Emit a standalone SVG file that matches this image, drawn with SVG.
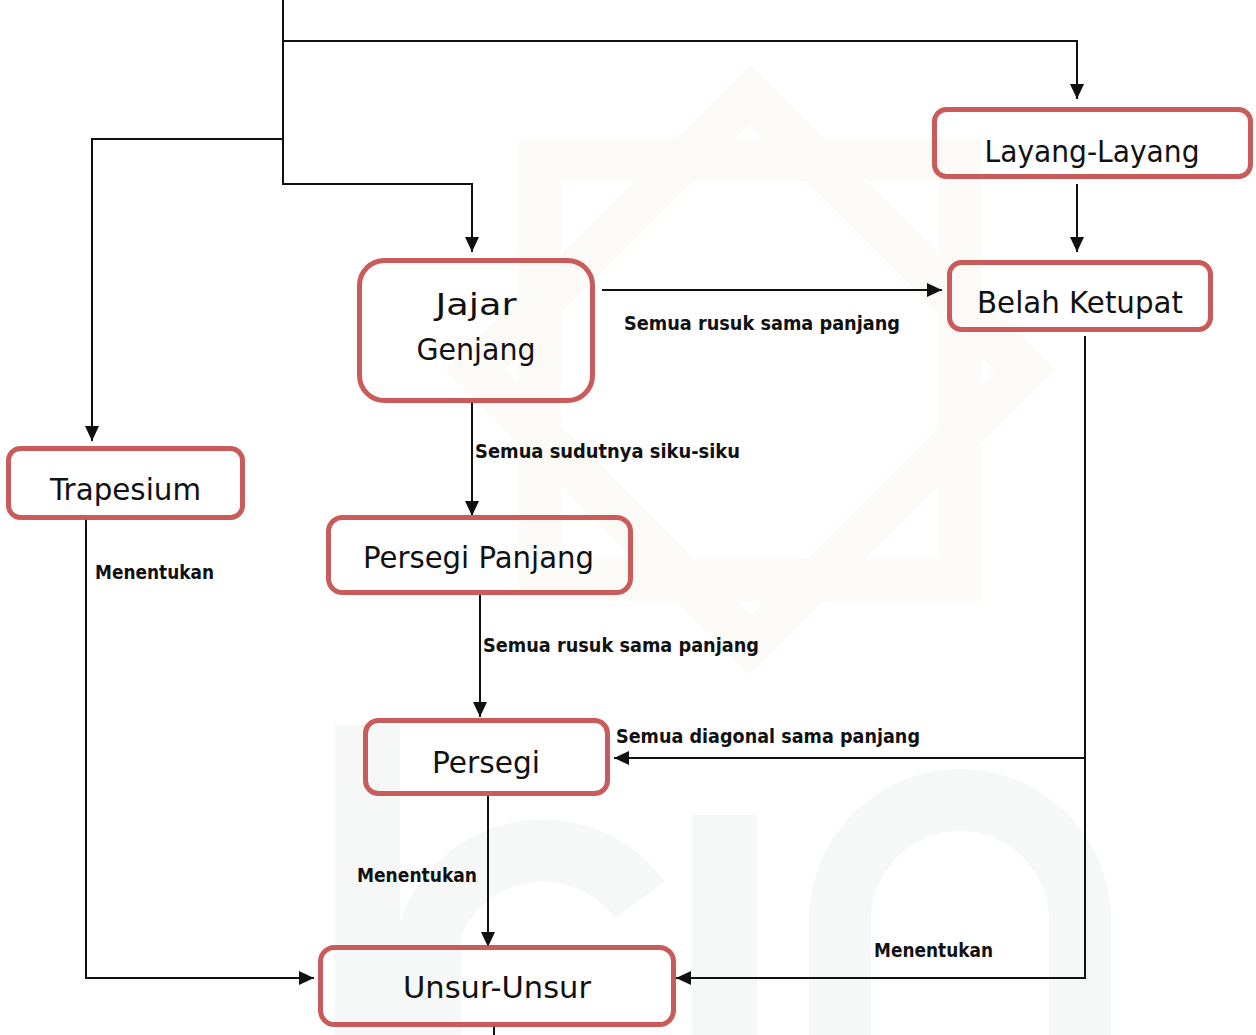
<svg xmlns="http://www.w3.org/2000/svg" width="1256" height="1035" viewBox="0 0 1256 1035">
<defs>
<style>
.box{fill:none;stroke:#c5504e;stroke-width:5;stroke-opacity:0.93}
.nt{font-family:"Comic Sans MS","DejaVu Sans",sans-serif;font-size:31px;fill:#111;text-anchor:middle}
.lb{font-family:"Comic Sans MS","DejaVu Sans",sans-serif;font-size:20px;font-weight:bold;fill:#111}
.ln{fill:none;stroke:#111;stroke-width:2}
.wm1{fill:none;stroke:#fbfaf7;stroke-width:42}
.wm2{fill:#f5f8f6}
.wm3{fill:none;stroke:#f5f8f6;stroke-width:62}
</style>
<marker id="ah" markerUnits="userSpaceOnUse" markerWidth="16" markerHeight="14" refX="15" refY="7" orient="auto">
<path d="M0,0 L15,7 L0,14 Z" fill="#111"/>
</marker>
</defs>
<rect width="1256" height="1035" fill="#fff"/>
<g id="watermark">
<rect class="wm1" x="540" y="160" width="420" height="420"/>
<path class="wm1" d="M750,95 L1025,370 L750,645 L475,370 Z"/>
<rect class="wm2" x="335" y="725" width="65" height="310"/>
<rect class="wm2" x="692" y="815" width="65" height="220"/>
<path class="wm3" d="M840,1035 V920 A115,115 0 0 1 1080,920 V1035"/>
<path class="wm3" d="M430,1035 V930 A120,120 0 0 1 640,900"/>
</g>
<g id="connectors">
<path class="ln" d="M283,0 V184 H472 V252" marker-end="url(#ah)"/>
<path class="ln" d="M283,41 H1077 V99" marker-end="url(#ah)"/>
<path class="ln" d="M283,139 H92 V441" marker-end="url(#ah)"/>
<path class="ln" d="M1077,184 V252" marker-end="url(#ah)"/>
<path class="ln" d="M602,290 H942" marker-end="url(#ah)"/>
<path class="ln" d="M472,402 V516" marker-end="url(#ah)"/>
<path class="ln" d="M480,595 V717" marker-end="url(#ah)"/>
<path class="ln" d="M1085,336 V758 H614" marker-end="url(#ah)"/>
<path class="ln" d="M1085,758 V978 H676" marker-end="url(#ah)"/>
<path class="ln" d="M488,796 V947" marker-end="url(#ah)"/>
<path class="ln" d="M86,519 V978 H314" marker-end="url(#ah)"/>
<path class="ln" d="M494,1025 V1035"/>
<text class="lb" x="624" y="330" textLength="276" lengthAdjust="spacingAndGlyphs">Semua rusuk sama panjang</text>
<text class="lb" x="475" y="458" textLength="265" lengthAdjust="spacingAndGlyphs">Semua sudutnya siku-siku</text>
<text class="lb" x="95" y="579" textLength="119" lengthAdjust="spacingAndGlyphs">Menentukan</text>
<text class="lb" x="483" y="652" textLength="276" lengthAdjust="spacingAndGlyphs">Semua rusuk sama panjang</text>
<text class="lb" x="616" y="743" textLength="304" lengthAdjust="spacingAndGlyphs">Semua diagonal sama panjang</text>
<text class="lb" x="357" y="882" textLength="120" lengthAdjust="spacingAndGlyphs">Menentukan</text>
<text class="lb" x="874" y="957" textLength="119" lengthAdjust="spacingAndGlyphs">Menentukan</text>
</g>
<g id="layang">
<rect class="box" x="934.5" y="109.5" width="316" height="67" rx="12"/>
<text class="nt" x="1092" y="162" textLength="215" lengthAdjust="spacingAndGlyphs">Layang-Layang</text>
</g>
<g id="belah">
<rect class="box" x="949.5" y="262.5" width="261" height="67" rx="12"/>
<text class="nt" x="1080" y="313" textLength="206" lengthAdjust="spacingAndGlyphs">Belah Ketupat</text>
</g>
<g id="jajar">
<rect class="box" x="359.5" y="260.5" width="233" height="140" rx="25"/>
<text class="nt" x="476" y="315" textLength="81" lengthAdjust="spacingAndGlyphs">Jajar</text>
<text class="nt" x="476" y="360" textLength="119" lengthAdjust="spacingAndGlyphs">Genjang</text>
</g>
<g id="trapesium">
<rect class="box" x="8.5" y="448.5" width="234" height="69" rx="12"/>
<text class="nt" x="125.5" y="500" textLength="151" lengthAdjust="spacingAndGlyphs">Trapesium</text>
</g>
<g id="persegi-panjang">
<rect class="box" x="328.5" y="517.5" width="302" height="75" rx="14"/>
<text class="nt" x="478.5" y="568" textLength="231" lengthAdjust="spacingAndGlyphs">Persegi Panjang</text>
</g>
<g id="persegi">
<rect class="box" x="365.5" y="720.5" width="242" height="73" rx="13"/>
<text class="nt" x="486" y="773" textLength="108" lengthAdjust="spacingAndGlyphs">Persegi</text>
</g>
<g id="unsur">
<rect class="box" x="320.5" y="947.5" width="353" height="77" rx="14"/>
<text class="nt" x="497" y="998" textLength="188" lengthAdjust="spacingAndGlyphs">Unsur-Unsur</text>
</g>
</svg>
